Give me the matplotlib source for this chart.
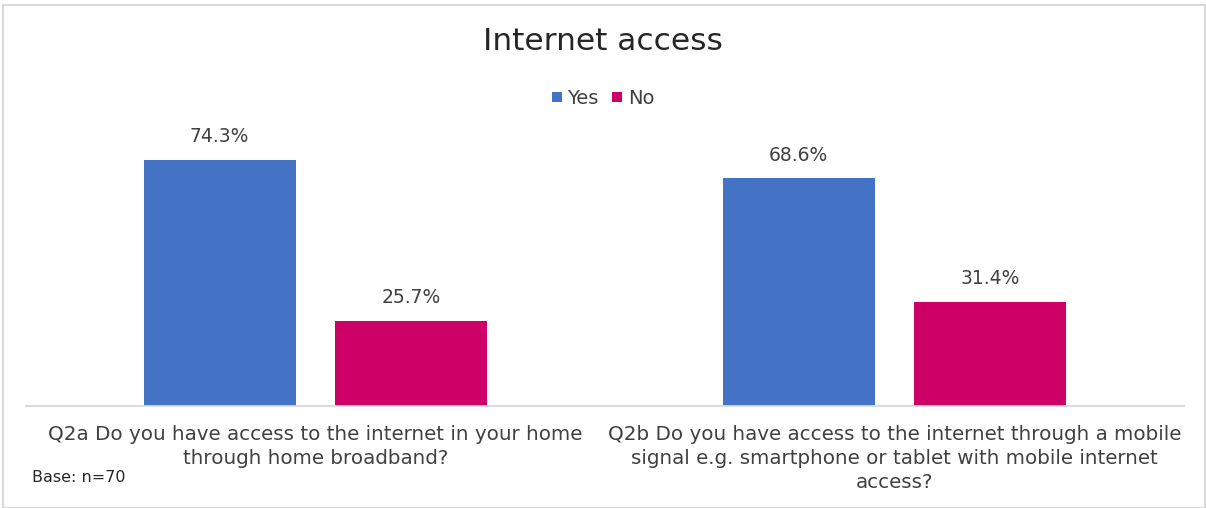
import matplotlib.pyplot as plt
from matplotlib.patches import Rectangle
from matplotlib.lines import Line2D
import numpy as np

plt.rcParams['font.family'] = ['DejaVu Sans']

# survey results, percent of respondents
questions = [
    'Q2a Do you have access to the internet in your home\nthrough home broadband?',
    'Q2b Do you have access to the internet through a mobile\nsignal e.g. smartphone or tablet with mobile internet\naccess?',
]
answers = ['Yes', 'No']
yes_pct = [74.3, 68.6]
no_pct = [25.7, 31.4]
colors = ['#4472C4', '#CC0066']

fig = plt.figure(figsize=(12.06, 5.08), dpi=100)
ax = fig.add_axes([26 / 1206, 102.3 / 508, 1158 / 1206, 265 / 508])

x = np.arange(len(questions))
width = 0.2625
offset = 0.1655
for vals, label, color, sign in zip([yes_pct, no_pct], answers, colors, [-1, 1]):
    bars = ax.bar(x + sign * offset, vals, width, color=color, label=label)
    for b, v in zip(bars, vals):
        ax.annotate(f'{v:.1f}%', (b.get_x() + b.get_width() / 2, v),
                    xytext=(0, 9.5), textcoords='offset points',
                    ha='center', va='bottom', fontsize=13.5, color='#404040')

ax.set_xlim(-0.5, 1.5)
ax.set_ylim(0, 80)
ax.set_yticks([])
for side in ['top', 'right', 'left']:
    ax.spines[side].set_visible(False)
ax.spines['bottom'].set_color('#D9D9D9')
ax.spines['bottom'].set_linewidth(1.3)
ax.set_xticks(x)
ax.set_xticklabels(questions, fontsize=14.3, color='#404040', linespacing=1.32,
                   va='top', multialignment='center')
ax.tick_params(axis='x', length=0, pad=14)

fig.text(0.5, 1 - 42 / 508, 'Internet access', ha='center', va='center',
         fontsize=22.5, color='#262626')

# square legend keys
handles = [Line2D([], [], linestyle='none', marker='s', markersize=7.5,
                  markerfacecolor=c, markeredgewidth=0) for c in colors]
fig.legend(handles, answers, loc='center', bbox_to_anchor=(0.5, 1 - 98 / 508),
           ncol=2, frameon=False, fontsize=14, handlelength=0.5,
           handletextpad=0.3, columnspacing=0.7, labelcolor='#404040')
fig.text(32 / 1206, 1 - 478 / 508, 'Base: n=70', ha='left', va='center',
         fontsize=11.5, color='#262626')

# light grey frame around the chart area
fig.patches.append(Rectangle((3 / 1206, 0), 1202 / 1206, 503 / 508,
                             transform=fig.transFigure, fill=False,
                             edgecolor='#D9D9D9', linewidth=1.5))

fig.savefig('out.png', dpi=100)
